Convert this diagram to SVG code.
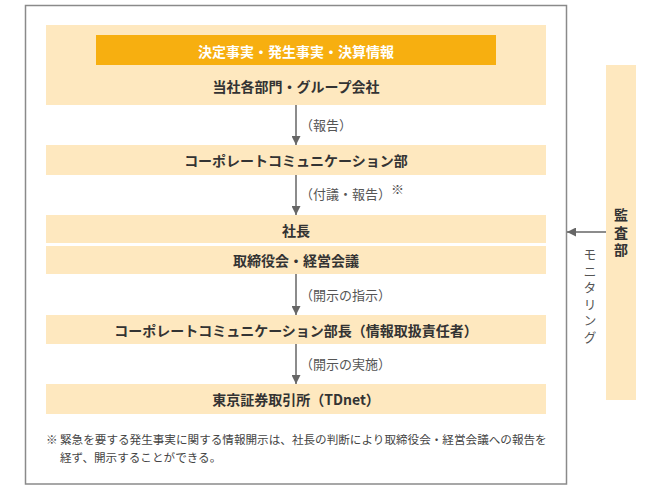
<svg xmlns="http://www.w3.org/2000/svg" width="660" height="490" viewBox="0 0 660 490">
<style>
.box{fill:#FEE8BF}
.bar{fill:#F7AF10}
.t{font-family:"Noto Sans CJK JP","Noto Sans",sans-serif;font-size:14px;font-weight:bold;fill:#333;text-anchor:middle;dominant-baseline:central}
.w{fill:#fff}
.v{font-family:"Noto Sans CJK JP","Noto Sans",sans-serif;writing-mode:vertical-rl;text-anchor:start}
.lbl{font-family:"Noto Sans CJK JP","Noto Sans",sans-serif;font-size:13px;fill:#555;dominant-baseline:central}
.note{font-family:"Noto Sans CJK JP","Noto Sans",sans-serif;font-size:11.6px;fill:#444;dominant-baseline:central}
.ln{stroke:#666;stroke-width:1.5;fill:none}
</style>
<defs>
<marker id="ah" viewBox="0 0 10 10" refX="10" refY="5" markerWidth="6" markerHeight="6" markerUnits="strokeWidth" orient="auto">
<path d="M0,0 L10,5 L0,10 z" fill="#666"/>
</marker>
</defs>
<rect x="25.5" y="5.5" width="541" height="478.5" fill="#fff" stroke="#8a8a8a" stroke-width="1.5"/>

<g id="source">
<rect class="box" x="46" y="25" width="500" height="80"/>
<rect class="bar" x="96" y="35" width="400" height="30"/>
<text class="t w" x="296" y="51">決定事実・発生事実・決算情報</text>
<text class="t" x="296" y="86">当社各部門・グループ会社</text>
</g>
<g id="corpcomm">
<rect class="box" x="46" y="145" width="500" height="30"/>
<text class="t" x="296" y="160">コーポレートコミュニケーション部</text>
</g>
<g id="president">
<rect class="box" x="46" y="215" width="500" height="28"/>
<text class="t" x="296" y="230">社長</text>
</g>
<g id="board">
<rect class="box" x="46" y="246" width="500" height="28"/>
<text class="t" x="296" y="260">取締役会・経営会議</text>
</g>
<g id="corpcommhead">
<rect class="box" x="46" y="315" width="500" height="29"/>
<text class="t" x="296" y="330">コーポレートコミュニケーション部長（情報取扱責任者）</text>
</g>
<g id="tse">
<rect class="box" x="46" y="384" width="500" height="30"/>
<text class="t" x="296" y="399">東京証券取引所（TDnet）</text>
</g>
<g id="audit">
<rect class="box" x="606" y="65" width="30" height="335"/>
<text class="v" x="621" y="208" font-size="14" font-weight="bold" fill="#333" letter-spacing="3.5">監査部</text>
</g>

<g id="connectors">
<line class="ln" x1="296" y1="105" x2="296" y2="145" marker-end="url(#ah)"/>
<line class="ln" x1="296" y1="175" x2="296" y2="215" marker-end="url(#ah)"/>
<line class="ln" x1="296" y1="274" x2="296" y2="315" marker-end="url(#ah)"/>
<line class="ln" x1="296" y1="344" x2="296" y2="384" marker-end="url(#ah)"/>
<line class="ln" x1="606" y1="232" x2="567" y2="232" marker-end="url(#ah)"/>
<text class="lbl" x="300" y="124">（報告）</text>
<text class="lbl" x="300" y="193">（付議・報告）</text>
<text class="lbl" x="391" y="188" font-size="8">※</text>
<text class="lbl" x="300" y="294">（開示の指示）</text>
<text class="lbl" x="300" y="363">（開示の実施）</text>
<text class="v" x="590" y="247.5" font-size="13" fill="#555" letter-spacing="3.6">モニタリング</text>
</g>

<text class="note" x="46" y="439">※</text>
<text class="note" x="60" y="439">緊急を要する発生事実に関する情報開示は、社長の判断により取締役会・経営会議への報告を</text>
<text class="note" x="60" y="457">経ず、開示することができる。</text>
</svg>
